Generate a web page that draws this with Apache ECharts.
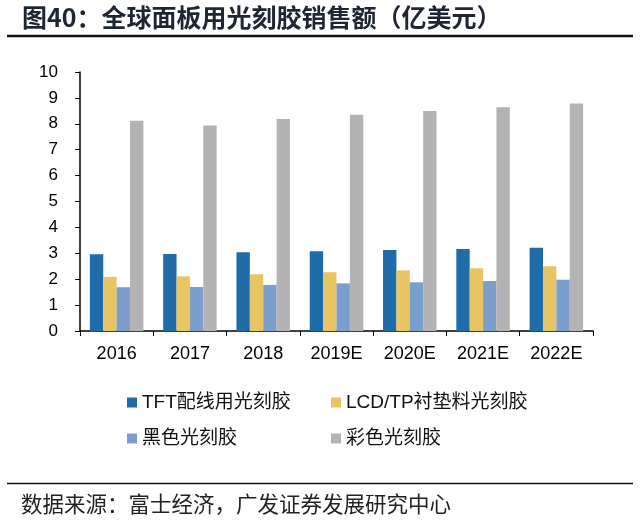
<!DOCTYPE html>
<html>
<head>
<meta charset="utf-8">
<script src="https://cdn.jsdelivr.net/npm/echarts@6/dist/echarts.min.js"></script>
<style>
	html, body { margin: 0; padding: 0; background: #fff; }
	#chart { width: 640px; height: 527px; }
</style>
</head>
<body>
<div id="chart"></div>
<script>
const categories = ["2016", "2017", "2018", "2019E", "2020E", "2021E", "2022E"];
const seriesNames = ["TFT配线用光刻胶", "LCD/TP衬垫料光刻胶", "黑色光刻胶", "彩色光刻胶"];
const tftValues = [2.96, 2.97, 3.04, 3.08, 3.13, 3.17, 3.21];
const lcdValues = [2.09, 2.11, 2.19, 2.27, 2.34, 2.42, 2.50];
const blackValues = [1.69, 1.70, 1.78, 1.84, 1.88, 1.93, 1.98];
const colorValues = [8.12, 7.93, 8.19, 8.35, 8.49, 8.64, 8.78];
const yTicks = [0, 1, 2, 3, 4, 5, 6, 7, 8, 9, 10];

const colors = ["#1f6ca8", "#e9c462", "#7b9ecd", "#b3b3b3"];
const font = "Arial, 'Liberation Sans', 'Noto Sans CJK SC', sans-serif";
const cjkFont = "'Noto Sans CJK SC', sans-serif";

const chart = echarts.init(document.getElementById("chart"));

// one bar series per product line
const seriesData = [tftValues, lcdValues, blackValues, colorValues];
const series = seriesData.map((values, i) => ({
	name: seriesNames[i],
	type: "bar",
	data: values,
	barGap: "0%",
	barCategoryGap: "27%",
	itemStyle: { color: colors[i] },
	animation: false,
}));

function legendColumn(left, names) {
	return {
		left: left,
		top: 388,
		orient: "vertical",
		itemGap: 17,
		itemWidth: 10,
		itemHeight: 10,
		icon: "rect",
		data: names,
		selectedMode: false,
		textStyle: { fontSize: 19, color: "#111", fontFamily: font },
	};
}

chart.setOption({
	animation: false,
	color: colors,
	grid: { left: 80, right: 47, top: 72, bottom: 196 },
	legend: [
		legendColumn(122, [seriesNames[0], seriesNames[2]]),
		legendColumn(326, [seriesNames[1], seriesNames[3]]),
	],
	xAxis: {
		type: "category",
		data: categories,
		axisLine: { lineStyle: { color: "#000", width: 1.5 } },
		axisTick: { show: true, length: 5, inside: false, lineStyle: { color: "#000" } },
		axisLabel: { fontSize: 18, color: "#000", fontFamily: font, margin: 14 },
	},
	yAxis: {
		type: "value",
		min: yTicks[0],
		max: yTicks[yTicks.length - 1],
		interval: 1,
		splitLine: { show: false },
		axisLine: { show: true, lineStyle: { color: "#000", width: 1.5 } },
		axisTick: { show: true, length: 5, lineStyle: { color: "#000" } },
		axisLabel: { fontSize: 17, color: "#000", fontFamily: font, margin: 22 },
	},
	series: series,
	graphic: [
		{
			type: "text",
			style: {
				x: 22,
				y: 17,
				text: "图40：全球面板用光刻胶销售额（亿美元）",
				fontSize: 25,
				fontWeight: "bold",
				fill: "#1e2633",
				fontFamily: cjkFont,
				verticalAlign: "middle",
			},
		},
		{
			type: "line",
			shape: { x1: 7, y1: 36, x2: 633, y2: 36 },
			style: { stroke: "#111", lineWidth: 2.5 },
		},
		{
			type: "line",
			shape: { x1: 7, y1: 483.5, x2: 633, y2: 483.5 },
			style: { stroke: "#111", lineWidth: 1.5 },
		},
		{
			type: "text",
			style: {
				x: 21,
				y: 504,
				text: "数据来源：富士经济，广发证券发展研究中心",
				fontSize: 21.5,
				fill: "#222",
				fontFamily: cjkFont,
				verticalAlign: "middle",
			},
		},
	],
});
</script>
</body>
</html>
